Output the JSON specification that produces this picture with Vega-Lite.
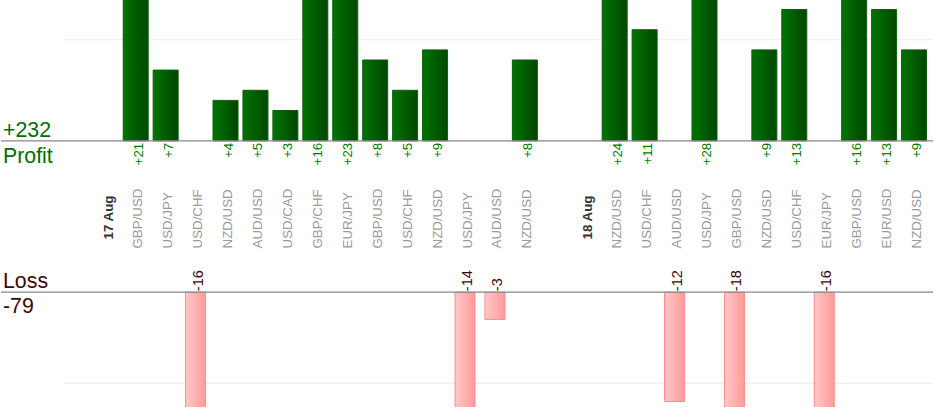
{
  "$schema": "https://vega.github.io/schema/vega-lite/v6.json",
  "width": 934,
  "height": 420,
  "autosize": {"type": "fit", "contains": "padding"},
  "padding": {"left": 0, "top": 0, "right": 0, "bottom": 13},
  "background": "white",
  "config": {
    "view": {"stroke": null},
    "font": "Liberation Sans"
  },
  "data": {
    "values": [
      {"slot": "s00", "kind": "gap", "label": ""},
      {"slot": "s01", "kind": "gap", "label": ""},
      {"slot": "s02", "kind": "gap", "label": ""},
      {"slot": "s03", "kind": "date", "label": "17 Aug"},
      {"slot": "s04", "kind": "pair", "label": "GBP/USD", "pl": 21},
      {"slot": "s05", "kind": "pair", "label": "USD/JPY", "pl": 7},
      {"slot": "s06", "kind": "pair", "label": "USD/CHF", "pl": -16},
      {"slot": "s07", "kind": "pair", "label": "NZD/USD", "pl": 4},
      {"slot": "s08", "kind": "pair", "label": "AUD/USD", "pl": 5},
      {"slot": "s09", "kind": "pair", "label": "USD/CAD", "pl": 3},
      {"slot": "s10", "kind": "pair", "label": "GBP/CHF", "pl": 16},
      {"slot": "s11", "kind": "pair", "label": "EUR/JPY", "pl": 23},
      {"slot": "s12", "kind": "pair", "label": "GBP/USD", "pl": 8},
      {"slot": "s13", "kind": "pair", "label": "USD/CHF", "pl": 5},
      {"slot": "s14", "kind": "pair", "label": "NZD/USD", "pl": 9},
      {"slot": "s15", "kind": "pair", "label": "USD/JPY", "pl": -14},
      {"slot": "s16", "kind": "pair", "label": "AUD/USD", "pl": -3},
      {"slot": "s17", "kind": "pair", "label": "NZD/USD", "pl": 8},
      {"slot": "s18", "kind": "gap", "label": ""},
      {"slot": "s19", "kind": "date", "label": "18 Aug"},
      {"slot": "s20", "kind": "pair", "label": "NZD/USD", "pl": 24},
      {"slot": "s21", "kind": "pair", "label": "USD/CHF", "pl": 11},
      {"slot": "s22", "kind": "pair", "label": "AUD/USD", "pl": -12},
      {"slot": "s23", "kind": "pair", "label": "USD/JPY", "pl": 28},
      {"slot": "s24", "kind": "pair", "label": "GBP/USD", "pl": -18},
      {"slot": "s25", "kind": "pair", "label": "NZD/USD", "pl": 9},
      {"slot": "s26", "kind": "pair", "label": "USD/CHF", "pl": 13},
      {"slot": "s27", "kind": "pair", "label": "EUR/JPY", "pl": -16},
      {"slot": "s28", "kind": "pair", "label": "GBP/USD", "pl": 16},
      {"slot": "s29", "kind": "pair", "label": "EUR/USD", "pl": 13},
      {"slot": "s30", "kind": "pair", "label": "NZD/USD", "pl": 9}
    ]
  },
  "layer": [
    {
      "transform": [{"filter": "datum.slot == 's02'"}],
      "mark": {"type": "rule", "color": "#ebebeb", "strokeWidth": 1},
      "encoding": {
        "x": {"field": "slot", "type": "nominal", "bandPosition": 0.1, "axis": null},
        "x2": {"value": "width"},
        "y": {"datum": 10, "type": "quantitative", "scale": {"domain": [-26.36, 13.94], "nice": false, "zero": false}, "axis": null}
      }
    },
    {
      "transform": [{"filter": "datum.slot == 's02'"}],
      "mark": {"type": "rule", "color": "#ebebeb", "strokeWidth": 1},
      "encoding": {
        "x": {"field": "slot", "type": "nominal", "bandPosition": 0.1, "axis": null},
        "x2": {"value": "width"},
        "y": {"datum": -10, "type": "quantitative", "scale": {"domain": [-12.6, 32.07], "nice": false, "zero": false}, "axis": null}
      }
    },
    {
      "transform": [{"filter": "datum.pl > 0"}],
      "mark": {
        "type": "bar",
        "clip": true,
        "width": 25,
        "fill": {
          "gradient": "linear", "x1": 0, "y1": 0, "x2": 1, "y2": 0,
          "stops": [{"offset": 0, "color": "#007400"}, {"offset": 1, "color": "#004600"}]
        },
        "stroke": "#0b600b",
        "strokeWidth": 1
      },
      "encoding": {
        "x": {
          "field": "slot", "type": "nominal", "axis": null,
          "scale": {
            "domain": ["s00", "s01", "s02", "s03", "s04", "s05", "s06", "s07", "s08", "s09", "s10", "s11", "s12", "s13", "s14", "s15",
                       "s16", "s17", "s18", "s19", "s20", "s21", "s22", "s23", "s24", "s25", "s26", "s27", "s28", "s29", "s30"],
            "paddingInner": 0, "paddingOuter": 0.0667, "align": 0
          }
        },
        "y": {"field": "pl", "type": "quantitative", "scale": {"domain": [-26.36, 13.94], "nice": false, "zero": false}, "axis": null}
      }
    },
    {
      "transform": [{"filter": "datum.pl < 0"}],
      "mark": {
        "type": "bar",
        "clip": true,
        "width": 20,
        "fill": {
          "gradient": "linear", "x1": 0, "y1": 0, "x2": 1, "y2": 0,
          "stops": [{"offset": 0, "color": "#ffc8c8"}, {"offset": 1, "color": "#ff9a9a"}]
        },
        "stroke": "#ff8c8c",
        "strokeWidth": 1
      },
      "encoding": {
        "x": {"field": "slot", "type": "nominal", "axis": null},
        "y": {"field": "pl", "type": "quantitative", "scale": {"domain": [-12.6, 32.07], "nice": false, "zero": false}, "axis": null}
      }
    },
    {
      "data": {"values": [{}]},
      "mark": {"type": "rule", "color": "#878787", "strokeWidth": 1.2},
      "encoding": {
        "y": {"datum": 0, "type": "quantitative", "scale": {"domain": [-26.36, 13.94], "nice": false, "zero": false}, "axis": null}
      }
    },
    {
      "data": {"values": [{}]},
      "mark": {"type": "rule", "color": "#878787", "strokeWidth": 1.2},
      "encoding": {
        "y": {"datum": 0, "type": "quantitative", "scale": {"domain": [-12.6, 32.07], "nice": false, "zero": false}, "axis": null}
      }
    },
    {
      "transform": [{"filter": "datum.pl > 0"}],
      "mark": {"type": "text", "angle": 270, "align": "right", "baseline": "middle", "dx": -2, "dy": 3, "fontSize": 13.33, "color": "#007a00"},
      "encoding": {
        "x": {"field": "slot", "type": "nominal", "axis": null},
        "y": {"datum": 0, "type": "quantitative", "scale": {"domain": [-26.36, 13.94], "nice": false, "zero": false}, "axis": null},
        "text": {"field": "pl", "type": "quantitative", "format": "+d"}
      }
    },
    {
      "transform": [{"filter": "datum.pl < 0"}],
      "mark": {"type": "text", "angle": 270, "align": "left", "baseline": "middle", "dx": 1, "dy": 3, "fontSize": 14.5, "color": "#3a0808"},
      "encoding": {
        "x": {"field": "slot", "type": "nominal", "axis": null},
        "y": {"datum": 0, "type": "quantitative", "scale": {"domain": [-12.6, 32.07], "nice": false, "zero": false}, "axis": null},
        "text": {"field": "pl", "type": "nominal"}
      }
    },
    {
      "transform": [{"filter": "datum.kind == 'pair'"}],
      "mark": {"type": "text", "angle": 270, "align": "left", "baseline": "middle", "dx": 43.7, "dy": 2.5, "fontSize": 13.33, "color": "#9a9a9a"},
      "encoding": {
        "x": {"field": "slot", "type": "nominal", "axis": null},
        "y": {"datum": 0, "type": "quantitative", "scale": {"domain": [-12.6, 32.07], "nice": false, "zero": false}, "axis": null},
        "text": {"field": "label", "type": "nominal"}
      }
    },
    {
      "transform": [{"filter": "datum.kind == 'date'"}],
      "mark": {"type": "text", "angle": 270, "align": "left", "baseline": "middle", "dx": 52.7, "dy": 3, "fontSize": 13.33, "fontWeight": "bold", "color": "#333333"},
      "encoding": {
        "x": {"field": "slot", "type": "nominal", "axis": null},
        "y": {"datum": 0, "type": "quantitative", "scale": {"domain": [-12.6, 32.07], "nice": false, "zero": false}, "axis": null},
        "text": {"field": "label", "type": "nominal"}
      }
    },
    {
      "transform": [
        {"filter": "datum.pl > 0"},
        {"aggregate": [{"op": "sum", "field": "pl", "as": "total"}], "groupby": []}
      ],
      "mark": {"type": "text", "align": "left", "baseline": "alphabetic", "dx": 2, "dy": -3.5, "fontSize": 21.33, "color": "#006e00"},
      "encoding": {
        "x": {"value": 0},
        "y": {"datum": 0, "type": "quantitative", "scale": {"domain": [-26.36, 13.94], "nice": false, "zero": false}, "axis": null},
        "text": {"field": "total", "type": "quantitative", "format": "+d"}
      }
    },
    {
      "data": {"values": [{}]},
      "mark": {"type": "text", "text": "Profit", "align": "left", "baseline": "alphabetic", "dx": 2, "dy": 21.9, "fontSize": 21.33, "color": "#006e00"},
      "encoding": {
        "x": {"value": 0},
        "y": {"datum": 0, "type": "quantitative", "scale": {"domain": [-26.36, 13.94], "nice": false, "zero": false}, "axis": null}
      }
    },
    {
      "transform": [
        {"filter": "datum.pl < 0"},
        {"aggregate": [{"op": "sum", "field": "pl", "as": "total"}], "groupby": []}
      ],
      "mark": {"type": "text", "align": "left", "baseline": "alphabetic", "dx": 2, "dy": 21.1, "fontSize": 21.33, "color": "#3a0808"},
      "encoding": {
        "x": {"value": 0},
        "y": {"datum": 0, "type": "quantitative", "scale": {"domain": [-12.6, 32.07], "nice": false, "zero": false}, "axis": null},
        "text": {"field": "total", "type": "nominal"}
      }
    },
    {
      "data": {"values": [{}]},
      "mark": {"type": "text", "text": "Loss", "align": "left", "baseline": "alphabetic", "dx": 2, "dy": -4.5, "fontSize": 21.33, "color": "#3a0808"},
      "encoding": {
        "x": {"value": 0},
        "y": {"datum": 0, "type": "quantitative", "scale": {"domain": [-12.6, 32.07], "nice": false, "zero": false}, "axis": null}
      }
    }
  ],
  "resolve": {"scale": {"y": "independent"}}
}
